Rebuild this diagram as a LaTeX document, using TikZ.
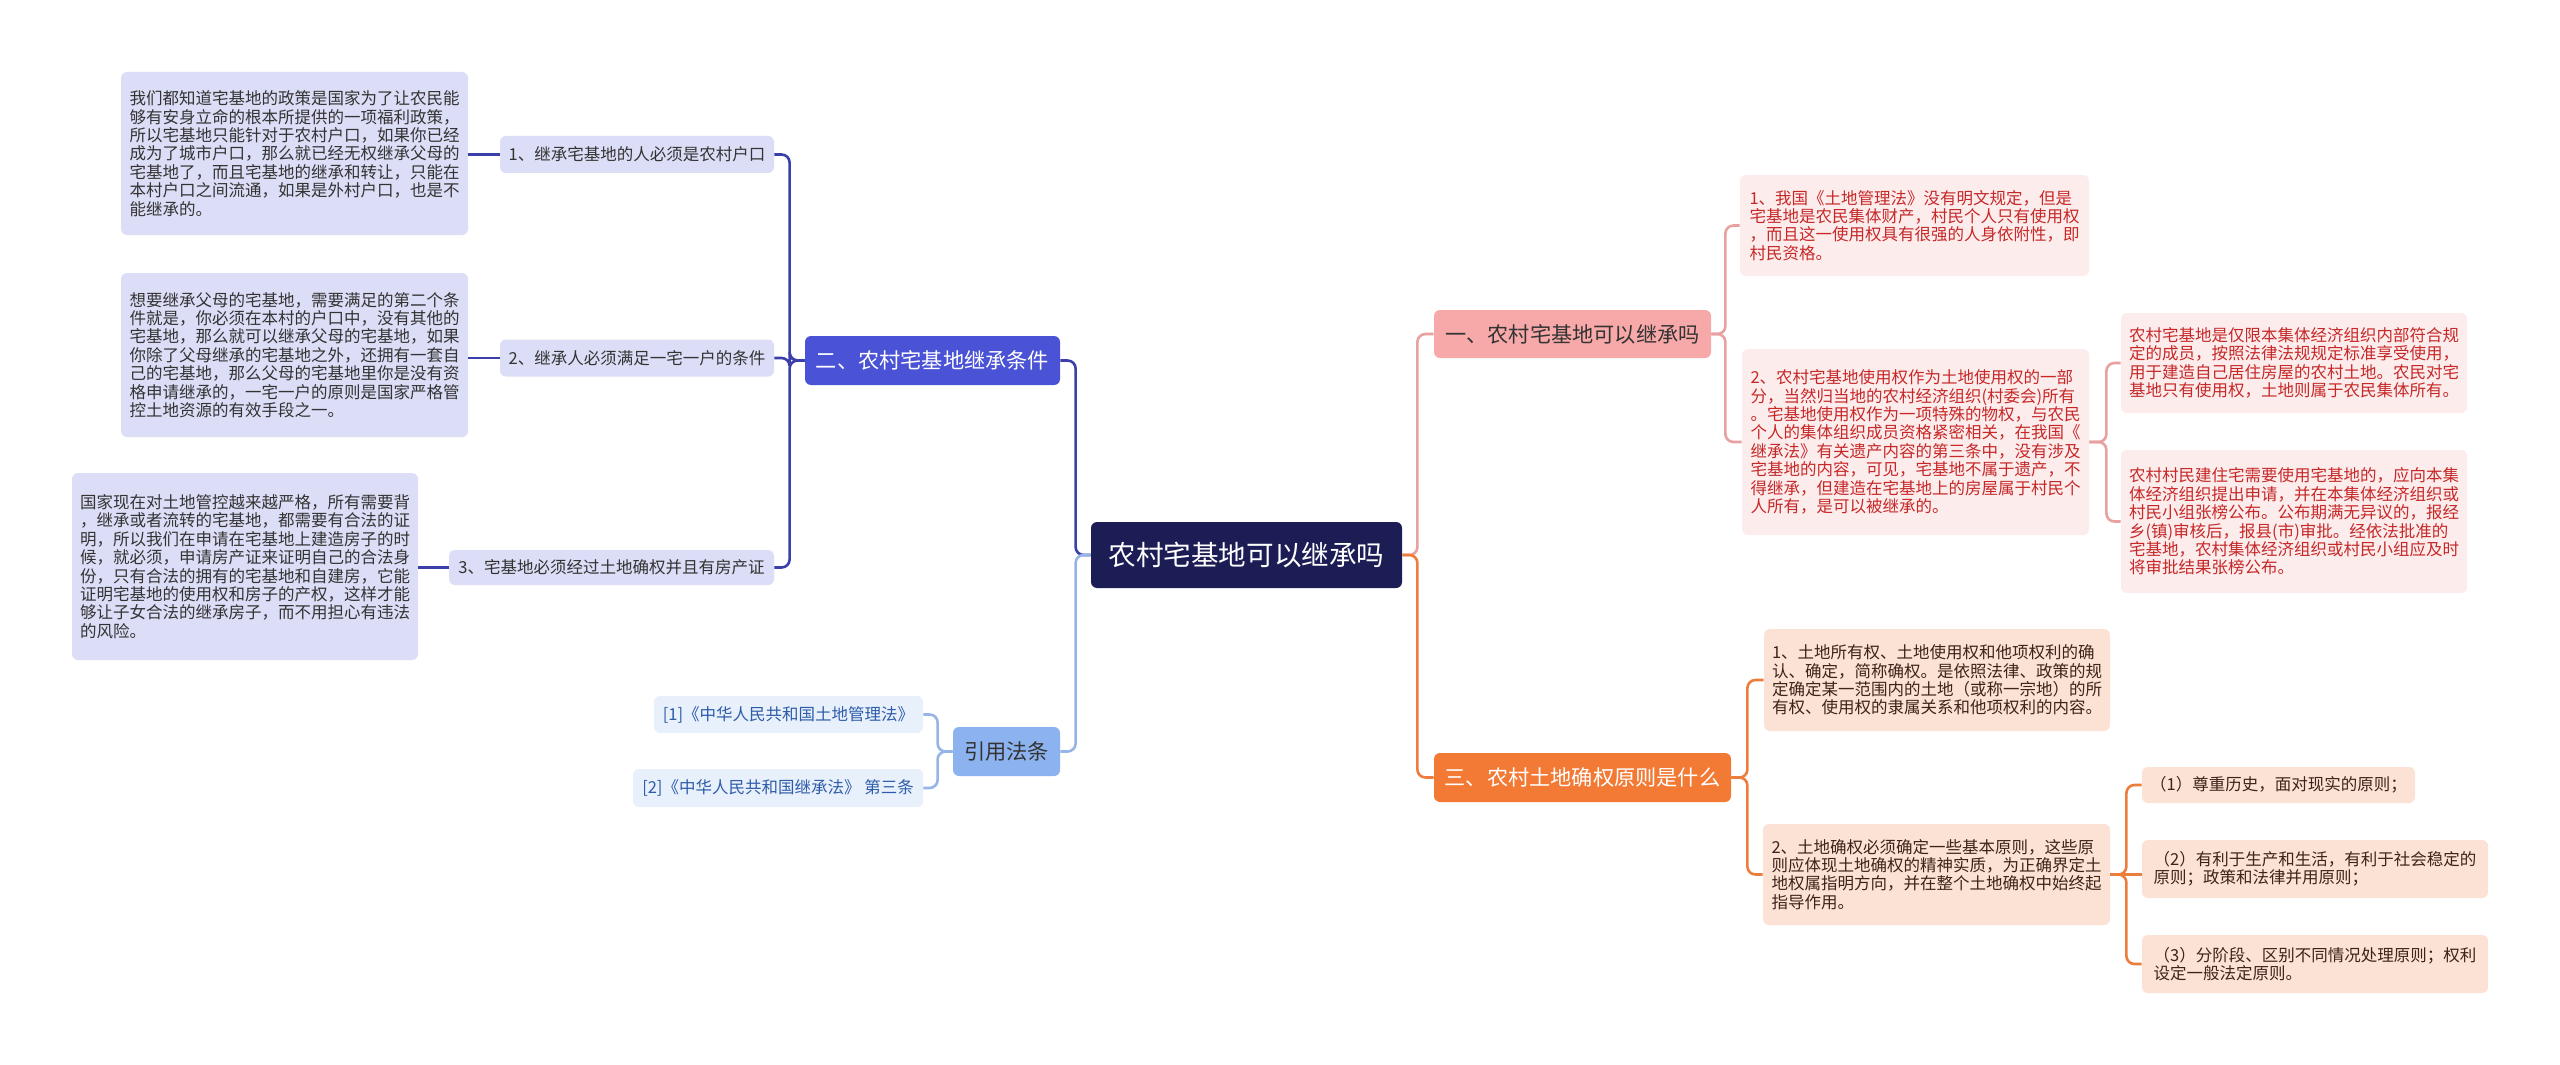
\documentclass[tikz,border=0pt]{standalone}
\usepackage{fontspec}
\newfontfamily\cjk{Noto Sans CJK SC}

\definecolor{rootbg}{HTML}{1B1D54}
\definecolor{lavfill}{HTML}{DCDDF6}
\definecolor{lavline}{HTML}{3B3FAA}
\definecolor{lavhead}{HTML}{4A52D6}
\definecolor{reffill}{HTML}{E8F0FC}
\definecolor{refhead}{HTML}{8CB2F0}
\definecolor{refline}{HTML}{96B4E6}
\definecolor{reftext}{HTML}{2E5CA8}
\definecolor{pinkhead}{HTML}{F7A8A8}
\definecolor{pinkfill}{HTML}{FDECEC}
\definecolor{pinkline}{HTML}{E8A0A0}
\definecolor{pinktext}{HTML}{C62828}
\definecolor{orghead}{HTML}{F27A34}
\definecolor{orgfill}{HTML}{FCE2D4}
\definecolor{orgline}{HTML}{EC7D3C}
\definecolor{orgtext}{HTML}{3E2418}

\begin{document}
\begin{tikzpicture}[x=0.5pt, y=-0.5pt,
    wh/.style 2 args={minimum width=#1*0.5pt, minimum height=#2*0.5pt},
    card/.style={rounded corners=3pt, align=left, inner sep=0pt, text=black!80,
      font=\cjk\fontsize{8.25}{9.2}\selectfont},
    head/.style={rounded corners=3pt, inner sep=0pt, text=black!80,
      font=\cjk\fontsize{10.6}{12}\selectfont},
    lav/.style={card, fill=lavfill},
    refc/.style={card, fill=reffill, text=reftext},
    pinkc/.style={card, fill=pinkfill, text=pinktext},
    orgc/.style={card, fill=orgfill, text=orgtext},
    lnL/.style={draw=lavline, line width=1.3pt, rounded corners=4pt},
    lnRef/.style={draw=refline, line width=1.3pt, rounded corners=4pt},
    lnA/.style={draw=pinkline, line width=1.3pt, rounded corners=4pt},
    lnB/.style={draw=orgline, line width=1.3pt, rounded corners=4pt}]

    % Sfondo e dimensioni
    \fill[white] (0,0) rectangle (2560,1065);

    % Radice
    \node[fill=rootbg, text=white, rounded corners=3pt, inner sep=0pt, wh={311}{66},
      font=\cjk\fontsize{13.8}{16}\selectfont] (root) at (1246.5,555) {农村宅基地可以继承吗};

    % Ramo sinistro: condizioni
    \node[head, fill=lavhead, text=white, wh={255}{49}] (L1) at (932.5,360.5) {二、农村宅基地继承条件};
    \node[lav, wh={274}{37}] (I1) at (637,154.5) {1、继承宅基地的人必须是农村户口};
    \node[lav, wh={274}{37}] (I2) at (637,358) {2、继承人必须满足一宅一户的条件};
    \node[lav, wh={325}{35}] (I3) at (611.5,567.5) {3、宅基地必须经过土地确权并且有房产证};

    \node[lav, wh={347}{163}] (D1) at (294.5,153.5) {我们都知道宅基地的政策是国家为了让农民能\\够有安身立命的根本所提供的一项福利政策，\\所以宅基地只能针对于农村户口，如果你已经\\成为了城市户口，那么就已经无权继承父母的\\宅基地了，而且宅基地的继承和转让，只能在\\本村户口之间流通，如果是外村户口，也是不\\能继承的。};
    \node[lav, wh={347}{164}] (D2) at (294.5,355) {想要继承父母的宅基地，需要满足的第二个条\\件就是，你必须在本村的户口中，没有其他的\\宅基地，那么就可以继承父母的宅基地，如果\\你除了父母继承的宅基地之外，还拥有一套自\\己的宅基地，那么父母的宅基地里你是没有资\\格申请继承的，一宅一户的原则是国家严格管\\控土地资源的有效手段之一。};
    \node[lav, wh={346}{187}] (D3) at (245,566.5) {国家现在对土地管控越来越严格，所有需要背\\，继承或者流转的宅基地，都需要有合法的证\\明，所以我们在申请在宅基地上建造房子的时\\候，就必须，申请房产证来证明自己的合法身\\份，只有合法的拥有的宅基地和自建房，它能\\证明宅基地的使用权和房子的产权，这样才能\\够让子女合法的继承房子，而不用担心有违法\\的风险。};

    % Ramo sinistro: riferimenti
    \node[head, fill=refhead, wh={107}{49}] (L2) at (1006.5,751.5) {引用法条};
    \node[refc, wh={269}{37}] (R1) at (788.5,714.5) {[1]《中华人民共和国土地管理法》};
    \node[refc, wh={290}{38}] (R2) at (778,788) {[2]《中华人民共和国继承法》 第三条};

    % Ramo destro: si puo ereditare
    \node[head, fill=pinkhead, wh={277}{48}] (A) at (1572.5,334) {一、农村宅基地可以继承吗};
    \node[pinkc, wh={349}{101}] (A1) at (1914.5,225.5) {1、我国《土地管理法》没有明文规定，但是\\宅基地是农民集体财产，村民个人只有使用权\\，而且这一使用权具有很强的人身依附性，即\\村民资格。};
    \node[pinkc, wh={347}{186}] (A2) at (1915.5,442) {2、农村宅基地使用权作为土地使用权的一部\\分，当然归当地的农村经济组织(村委会)所有\\。宅基地使用权作为一项特殊的物权，与农民\\个人的集体组织成员资格紧密相关，在我国《\\继承法》有关遗产内容的第三条中，没有涉及\\宅基地的内容，可见，宅基地不属于遗产，不\\得继承，但建造在宅基地上的房屋属于村民个\\人所有，是可以被继承的。};
    \node[pinkc, wh={346}{100}] (A2a) at (2294,363) {农村宅基地是仅限本集体经济组织内部符合规\\定的成员，按照法律法规规定标准享受使用，\\用于建造自己居住房屋的农村土地。农民对宅\\基地只有使用权，土地则属于农民集体所有。};
    \node[pinkc, wh={346}{143}] (A2b) at (2294,521.5) {农村村民建住宅需要使用宅基地的，应向本集\\体经济组织提出申请，并在本集体经济组织或\\村民小组张榜公布。公布期满无异议的，报经\\乡(镇)审核后，报县(市)审批。经依法批准的\\宅基地，农村集体经济组织或村民小组应及时\\将审批结果张榜公布。};

    % Ramo destro: principi
    \node[head, fill=orghead, text=white, wh={297}{49}] (B) at (1582.5,777.5) {三、农村土地确权原则是什么};
    \node[orgc, wh={346}{102}] (B1) at (1937,680) {1、土地所有权、土地使用权和他项权利的确\\认、确定，简称确权。是依照法律、政策的规\\定确定某一范围内的土地（或称一宗地）的所\\有权、使用权的隶属关系和他项权利的内容。};
    \node[orgc, wh={347}{101}] (B2) at (1936.5,874.5) {2、土地确权必须确定一些基本原则，这些原\\则应体现土地确权的精神实质，为正确界定土\\地权属指明方向，并在整个土地确权中始终起\\指导作用。};
    \node[orgc, wh={273}{36}] (B2a) at (2278.5,785) {（1）尊重历史，面对现实的原则；};
    \node[orgc, wh={346}{58}] (B2b) at (2315,869) {（2）有利于生产和生活，有利于社会稳定的\\原则；政策和法律并用原则；};
    \node[orgc, wh={346}{58}] (B2c) at (2315,964) {（3）分阶段、区别不同情况处理原则；权利\\设定一般法定原则。};

    % Collegamenti
    \draw[lnL] (root.west) -- ++(-15,0) |- (L1.east);
    \draw[lnRef] (root.west) -- ++(-15,0) |- (L2.east);
    \foreach \c in {I1,I3} \draw[lnL] (L1.west) -- ++(-15,0) |- (\c.east);
    \draw[lnL] (L1.west) -- ++(-15,0) |- (I2.east);
    \draw[lnL] (I1.west) -- (I1.west -| D1.east);
    \draw[lnL] (I2.west) -- (I2.west -| D2.east);
    \draw[lnL] (I3.west) -- (I3.west -| D3.east);
    \foreach \c in {R1,R2} \draw[lnRef] (L2.west) -- ++(-15,0) |- (\c.east);

    \draw[lnA] (root.east) -- ++(15,0) |- (A.west);
    \draw[lnB] (root.east) -- ++(15,0) |- (B.west);
    \foreach \c in {A1,A2} \draw[lnA] (A.east) -- ++(14,0) |- (\c.west);
    \foreach \c in {A2a,A2b} \draw[lnA] (A2.east) -- ++(17,0) |- (\c.west);
    \foreach \c in {B1,B2} \draw[lnB] (B.east) -- ++(16,0) |- (\c.west);
    \foreach \c in {B2a,B2c} \draw[lnB] (B2.east) -- ++(16,0) |- (\c.west);
    \draw[lnB] (B2.east) -- (B2b.west |- B2.east);

\end{tikzpicture}
\end{document}
